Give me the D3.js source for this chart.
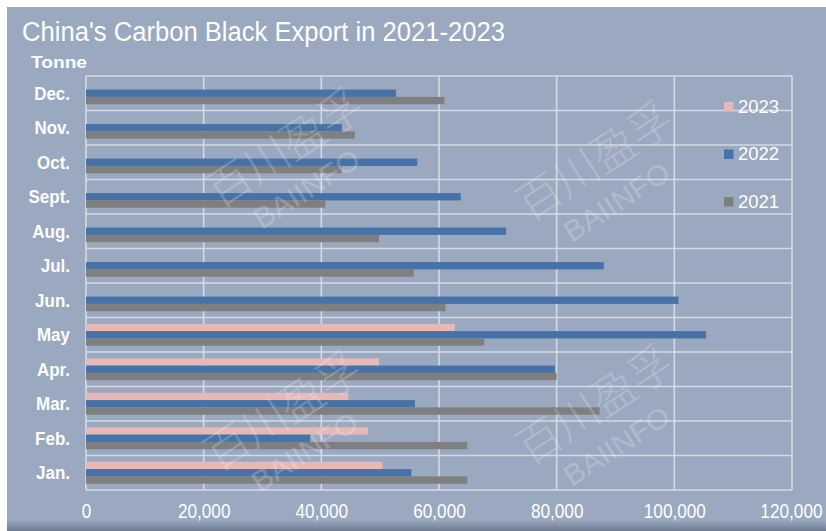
<!DOCTYPE html>
<html>
<head>
<meta charset="utf-8">
<script src="https://cdn.jsdelivr.net/npm/d3@7"></script>
<style>
  html, body { margin: 0; padding: 0; background: #ffffff; }
  svg { display: block; }
</style>
</head>
<body>
<svg id="chart" width="826" height="531"></svg>
<script>
// Monthly carbon black exports, tonnes
const months = ["Jan.", "Feb.", "Mar.", "Apr.", "May", "Jun.", "Jul.", "Aug.", "Sept.", "Oct.", "Nov.", "Dec."];
const years = ["2023", "2022", "2021"];
const exports2021 = [64800, 64800, 87300, 80000, 67700, 61100, 55700, 49800, 40700, 43500, 45700, 60900];
const exports2022 = [55300, 38100, 55900, 79700, 105400, 100700, 88000, 71400, 63700, 56300, 43500, 52700];
const exports2023 = [50400, 47900, 44600, 49800, 62700, null, null, null, null, null, null, null];
const xTicks = [0, 20000, 40000, 60000, 80000, 100000, 120000];
const colors = { "2023": "#e6b9b8", "2022": "#4672a7", "2021": "#7f7f7f" };

const seriesByYear = { "2023": exports2023, "2022": exports2022, "2021": exports2021 };

const svg = d3.select("#chart");
const W = 826, H = 531;

// squeeze a text element horizontally to a fraction of its natural width
function condense(sel, k) {
  sel.each(function () {
    const w = this.getComputedTextLength();
    d3.select(this).attr("textLength", w * k).attr("lengthAdjust", "spacingAndGlyphs");
  });
}

// background panel
const defs = svg.append("defs");
const grad = defs.append("linearGradient").attr("id", "bottomShade")
  .attr("x1", 0).attr("y1", 0).attr("x2", 0).attr("y2", 1);
grad.append("stop").attr("offset", "0%").attr("stop-color", "#9aa8c0");
grad.append("stop").attr("offset", "100%").attr("stop-color", "#6f7b90");

svg.append("rect").attr("x", 7).attr("y", 7).attr("width", W - 7).attr("height", H - 7)
  .attr("fill", "#9aa8c0");
svg.append("rect").attr("x", 7).attr("y", 520).attr("width", W - 7).attr("height", 11)
  .attr("fill", "url(#bottomShade)");

const plot = { left: 86, right: 792, top: 76, bottom: 490 };

const x = d3.scaleLinear().domain([0, 120000]).range([plot.left, plot.right]);
const y0 = d3.scaleBand().domain(months.slice().reverse()).range([plot.top, plot.bottom]).padding(0);
const y1 = d3.scaleBand().domain(years).range([0, y0.bandwidth()]).paddingInner(0).paddingOuter(0.86);

// grid
const grid = svg.append("g").attr("stroke", "#dfe4ec").attr("stroke-width", 1.6).attr("opacity", 0.85);
grid.selectAll("line.v").data(xTicks).join("line")
  .attr("x1", d => x(d)).attr("x2", d => x(d))
  .attr("y1", plot.top).attr("y2", plot.bottom);
const rowEdges = y0.domain().map(m => y0(m)).concat([plot.bottom]);
grid.selectAll("line.h").data(rowEdges).join("line")
  .attr("x1", plot.left).attr("x2", plot.right)
  .attr("y1", d => d).attr("y2", d => d);

// bars
const rows = svg.append("g").selectAll("g").data(months).join("g")
  .attr("transform", m => `translate(0,${y0(m)})`);
rows.selectAll("rect")
  .data((m, i) => years.map(yr => ({ year: yr, value: seriesByYear[yr][i] })).filter(d => d.value != null))
  .join("rect")
  .attr("x", x(0))
  .attr("y", d => y1(d.year))
  .attr("width", d => x(d.value) - x(0))
  .attr("height", y1.bandwidth())
  .attr("fill", d => colors[d.year]);

// axes
const tickSqueeze = 0.86;
const xAxis = d3.axisBottom(x).tickValues(xTicks).tickSize(0).tickPadding(0)
  .tickFormat(d3.format(","));
const gx = svg.append("g").attr("transform", `translate(0,${plot.bottom})`).call(xAxis);
gx.select(".domain").remove();
gx.selectAll("text")
  .attr("dy", null).attr("y", 28)
  .attr("transform", `scale(${tickSqueeze},1)`)
  .attr("fill", "#ffffff")
  .style("font-family", "'Liberation Sans', sans-serif")
  .style("font-size", "20px");
// keep the last label inside the panel edge
gx.selectAll("text").filter(d => d === xTicks[xTicks.length - 1])
  .attr("text-anchor", "end").attr("x", 30 / tickSqueeze);

const yAxis = d3.axisLeft(y0).tickSize(0).tickPadding(0);
const gy = svg.append("g").attr("transform", `translate(70,0)`).call(yAxis);
gy.select(".domain").remove();
gy.selectAll("text")
  .attr("x", 0).attr("dy", "0.36em")
  .attr("fill", "#ffffff")
  .style("font-family", "'Liberation Sans', sans-serif")
  .style("font-weight", "bold")
  .style("font-size", "17.5px")
  .call(condense, 0.97);

// title and unit
svg.append("text").attr("x", 22).attr("y", 41)
  .attr("textLength", 483).attr("lengthAdjust", "spacingAndGlyphs")
  .attr("fill", "#ffffff")
  .style("font-family", "'Liberation Sans', sans-serif")
  .style("font-size", "27px")
  .text("China's Carbon Black Export in 2021-2023");
svg.append("text").attr("x", 31).attr("y", 68)
  .attr("textLength", 56).attr("lengthAdjust", "spacingAndGlyphs")
  .attr("fill", "#ffffff")
  .style("font-family", "'Liberation Sans', sans-serif")
  .style("font-weight", "bold")
  .style("font-size", "16.5px")
  .text("Tonne");

// legend
const legend = svg.append("g").selectAll("g").data(years).join("g")
  .attr("transform", (d, i) => `translate(724,${102 + i * 47.5})`);
legend.append("rect").attr("width", 9.5).attr("height", 9.5).attr("fill", d => colors[d]);
legend.append("text").attr("x", 14).attr("y", 10.5)
  .attr("fill", "#ffffff")
  .style("font-family", "'Liberation Sans', sans-serif")
  .style("font-size", "18.5px")
  .text(d => d);

// watermarks
const marks = [[296, 165], [606, 178], [294, 428], [606, 422]];
const wm = svg.append("g").attr("fill", "#ffffff").attr("opacity", 0.22).attr("pointer-events", "none");
marks.forEach(([cx, cy]) => {
  const g = wm.append("g").attr("transform", `translate(${cx},${cy}) rotate(-33)`);
  g.append("text").attr("x", 0).attr("y", -4).attr("text-anchor", "middle")
    .style("font-family", "'Noto Sans CJK SC', sans-serif").style("font-weight", "300")
    .style("font-size", "44px").text("百川盈孚");
  g.append("text").attr("x", -4).attr("y", 36).attr("text-anchor", "middle")
    .style("font-family", "'Liberation Sans', sans-serif")
    .style("font-size", "30px").text("BAIINFO");
});
</script>
</body>
</html>
